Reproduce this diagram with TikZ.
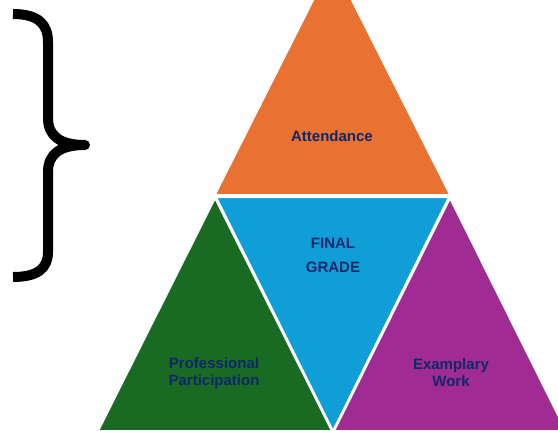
\documentclass[tikz,border=0pt]{standalone}
\usepackage{fontspec}
\setmainfont{Liberation Sans}
\usepackage{tikz}
\usetikzlibrary{positioning}
\definecolor{fillOrange}{HTML}{E97132}
\definecolor{fillBlue}{HTML}{0F9ED5}
\definecolor{fillGreen}{HTML}{196B24}
\definecolor{fillPurple}{HTML}{A02B93}
\definecolor{labelNavy}{RGB}{14,40,105}

\begin{document}
\begin{tikzpicture}[x=1pt, y=-1pt,
    part/.style={draw=white, line width=2pt, line join=miter},
    label/.style={text=labelNavy, font=\bfseries\fontsize{15}{17}\selectfont, align=center, inner sep=0pt}]
        \useasboundingbox (0,0) rectangle (558,431);
        \clip (0,0) rectangle (558,431);
        % 座標設定
        \coordinate (Otop) at (332.5,-36);
        \coordinate (OL) at (216,195);
        \coordinate (OR) at (449,195);
        \coordinate (BL) at (216,197);
        \coordinate (BR) at (449,197);
        \coordinate (Bbot) at (333,431);
        \coordinate (Gtop) at (215,198);
        \coordinate (GL) at (98,431);
        \coordinate (GR) at (332,431);
        \coordinate (Ptop) at (450,198);
        \coordinate (PL) at (334,431);
        \coordinate (PR) at (566,431);

        % 三角形
        \fill[fillOrange] (Otop)--(OL)--(OR)--cycle;
        \filldraw[part, fill=fillGreen] (Gtop)--(GL)--(GR)--cycle;
        \filldraw[part, fill=fillPurple] (Ptop)--(PL)--(PR)--cycle;
        \filldraw[part, fill=fillBlue] (BL)--(BR)--(Bbot)--cycle;
        \draw[white, line width=2pt] (OL)--(OR);

        % ラベル
        \node[label] (attend) at (332,136) {Attendance};
        \node[label] (final) at (333,243) {FINAL};
        \node[label, below=24pt of final.base, anchor=base] (grade) {GRADE};
        \node[label] (prof) at (214,373) {Professional\\Participation};
        \node[label] (work) at (451,373) {Examplary\\Work};

        % 括弧
        \draw[line width=10pt, line join=round]
            (13,14) .. controls (38,14) and (48,24) .. (48,42) -- (48,118)
            .. controls (48,136) and (60,145) .. (85,145)
            .. controls (60,145) and (48,154) .. (48,172) -- (48,252)
            .. controls (48,268) and (38,277) .. (13,277);
    \end{tikzpicture}
\end{document}
